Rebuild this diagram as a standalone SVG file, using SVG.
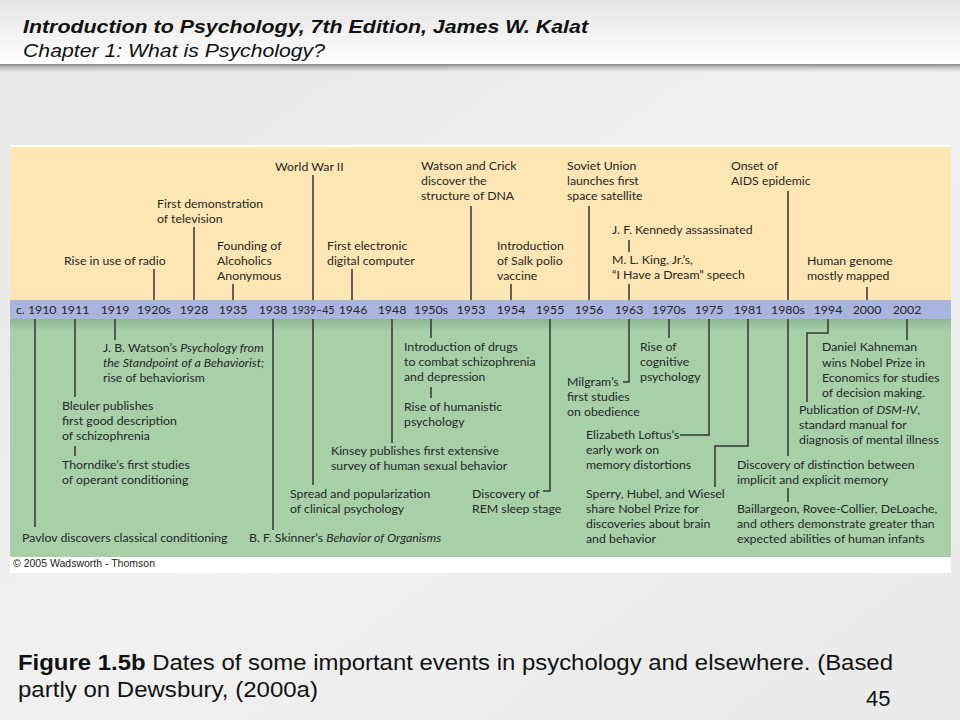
<svg xmlns="http://www.w3.org/2000/svg" width="960" height="720" viewBox="0 0 960 720">
<defs>
<linearGradient id="hdr" x1="0" y1="0" x2="0" y2="1"><stop offset="0" stop-color="#e4e4e4"/><stop offset="1" stop-color="#ffffff"/></linearGradient>
<linearGradient id="shd" x1="0" y1="0" x2="0" y2="1"><stop offset="0" stop-color="#7a7a7a" stop-opacity="0.9"/><stop offset="1" stop-color="#cfcfcf" stop-opacity="0"/></linearGradient>
<linearGradient id="bg" x1="0" y1="0" x2="1" y2="1"><stop offset="0" stop-color="#e6e6e6"/><stop offset="0.5" stop-color="#f1f1f1"/><stop offset="1" stop-color="#e9e9e9"/></linearGradient>
<linearGradient id="gsh" x1="0" y1="0" x2="0" y2="1"><stop offset="0" stop-color="#000" stop-opacity="0.14"/><stop offset="1" stop-color="#000" stop-opacity="0"/></linearGradient>
<style>
.t{font-family:Lato,"Gill Sans","Liberation Sans",sans-serif;font-size:12.3px;fill:#262626}
.y{font-family:Lato,"Gill Sans","Liberation Sans",sans-serif;font-size:12.3px;fill:#262626;text-anchor:middle}
.i{font-style:italic}
.c{fill:none;stroke:#333;stroke-width:1.5}
.hd{font-family:"Liberation Sans",Arial,sans-serif;font-size:18px;font-style:italic;fill:#111}
.cap{font-family:"Liberation Sans",Arial,sans-serif;font-size:22px;fill:#111}
</style>
</defs>
<rect x="0" y="0" width="960" height="720" fill="url(#bg)"/>
<rect x="0" y="0" width="960" height="64" fill="url(#hdr)"/>
<rect x="0" y="64" width="960" height="9" fill="url(#shd)"/>
<g id="header">
<text class="hd" x="23" y="33" font-weight="bold" textLength="565" lengthAdjust="spacingAndGlyphs">Introduction to Psychology, 7th Edition, James W. Kalat</text>
<text class="hd" x="23" y="57" textLength="302" lengthAdjust="spacingAndGlyphs">Chapter 1: What is Psychology?</text>
</g>
<g id="figure-bg">
<rect x="10" y="145" width="941" height="428" fill="#ffffff"/>
<rect x="10" y="147" width="941" height="153" fill="#fde6b3"/>
<rect x="10" y="319" width="941" height="238" fill="#a7d0a9"/>
<rect x="10" y="319" width="941" height="12" fill="url(#gsh)"/>
<rect x="10" y="300" width="941" height="19" fill="#a9b4df"/>
<text x="13" y="567" font-family="'Liberation Sans',Arial,sans-serif" font-size="10.5" fill="#222">© 2005 Wadsworth - Thomson</text>
</g>
<g id="years">
<text class="t" x="16" y="314">c. 1910</text>
<text class="y" x="75" y="314">1911</text>
<text class="y" x="115" y="314">1919</text>
<text class="y" x="154" y="314">1920s</text>
<text class="y" x="194" y="314">1928</text>
<text class="y" x="233" y="314">1935</text>
<text class="y" x="273" y="314">1938</text>
<text class="y" x="313" y="314" textLength="43" lengthAdjust="spacingAndGlyphs">1939–45</text>
<text class="y" x="353" y="314">1946</text>
<text class="y" x="392" y="314">1948</text>
<text class="y" x="431" y="314">1950s</text>
<text class="y" x="471" y="314">1953</text>
<text class="y" x="511" y="314">1954</text>
<text class="y" x="550" y="314">1955</text>
<text class="y" x="589" y="314">1956</text>
<text class="y" x="629" y="314">1963</text>
<text class="y" x="669" y="314">1970s</text>
<text class="y" x="709" y="314">1975</text>
<text class="y" x="748" y="314">1981</text>
<text class="y" x="788" y="314">1980s</text>
<text class="y" x="828" y="314">1994</text>
<text class="y" x="867" y="314">2000</text>
<text class="y" x="907" y="314">2002</text>
</g>
<g id="connectors">
<path class="c" d="M154 269V300M194 227V300M233 284V300M313 175V300M352 269V300M471 206V300M511 284V300M589 206V300M629 240V252M629 284V300M788 191V300M867 287V300"/>
<path class="c" d="M35 319V527M75 319V397M75 446V456M115 319V340M273 319V530M313 319V485M392 319V443M431 319V338M431 387V398M550 319V491H543M629 319V382H623M669 319V338M709 319V435H680M748 319V446H715V487M788 319V456M788 488V502M828 319V333H807V402M907 319V340"/>
</g>
<g id="ww2"><text class="t" x="275" y="171">World War II</text></g>
<g id="television"><text class="t" x="157" y="208">First demonstration</text><text class="t" x="157" y="223">of television</text></g>
<g id="radio"><text class="t" x="64" y="265">Rise in use of radio</text></g>
<g id="aa"><text class="t" x="217" y="250">Founding of</text><text class="t" x="217" y="265">Alcoholics</text><text class="t" x="217" y="280">Anonymous</text></g>
<g id="computer"><text class="t" x="327" y="250">First electronic</text><text class="t" x="327" y="265">digital computer</text></g>
<g id="dna"><text class="t" x="421" y="170">Watson and Crick</text><text class="t" x="421" y="185">discover the</text><text class="t" x="421" y="200">structure of DNA</text></g>
<g id="salk"><text class="t" x="497" y="250">Introduction</text><text class="t" x="497" y="265">of Salk polio</text><text class="t" x="497" y="280">vaccine</text></g>
<g id="sputnik"><text class="t" x="567" y="170">Soviet Union</text><text class="t" x="567" y="185">launches first</text><text class="t" x="567" y="200">space satellite</text></g>
<g id="kennedy"><text class="t" x="612" y="234">J. F. Kennedy assassinated</text></g>
<g id="king"><text class="t" x="612" y="264">M. L. King, Jr.’s,</text><text class="t" x="612" y="279">“I Have a Dream” speech</text></g>
<g id="aids"><text class="t" x="731" y="170">Onset of</text><text class="t" x="731" y="185">AIDS epidemic</text></g>
<g id="genome"><text class="t" x="807" y="265">Human genome</text><text class="t" x="807" y="280">mostly mapped</text></g>
<g id="pavlov"><text class="t" x="22" y="542">Pavlov discovers classical conditioning</text></g>
<g id="bleuler"><text class="t" x="62" y="410">Bleuler publishes</text><text class="t" x="62" y="425">first good description</text><text class="t" x="62" y="440">of schizophrenia</text></g>
<g id="thorndike"><text class="t" x="62" y="469">Thorndike’s first studies</text><text class="t" x="62" y="484">of operant conditioning</text></g>
<g id="watson"><text class="t" x="103" y="352">J. B. Watson’s <tspan class="i">Psychology from</tspan></text><text class="t i" x="103" y="367">the Standpoint of a Behaviorist;</text><text class="t" x="103" y="382">rise of behaviorism</text></g>
<g id="skinner"><text class="t" x="249" y="542">B. F. Skinner’s <tspan class="i">Behavior of Organisms</tspan></text></g>
<g id="clinical"><text class="t" x="290" y="498">Spread and popularization</text><text class="t" x="290" y="513">of clinical psychology</text></g>
<g id="kinsey"><text class="t" x="331" y="455">Kinsey publishes first extensive</text><text class="t" x="331" y="470">survey of human sexual behavior</text></g>
<g id="drugs"><text class="t" x="404" y="351">Introduction of drugs</text><text class="t" x="404" y="366">to combat schizophrenia</text><text class="t" x="404" y="381">and depression</text></g>
<g id="humanistic"><text class="t" x="404" y="411">Rise of humanistic</text><text class="t" x="404" y="426">psychology</text></g>
<g id="rem"><text class="t" x="472" y="498">Discovery of</text><text class="t" x="472" y="513">REM sleep stage</text></g>
<g id="milgram"><text class="t" x="567" y="386">Milgram’s</text><text class="t" x="567" y="401">first studies</text><text class="t" x="567" y="416">on obedience</text></g>
<g id="cognitive"><text class="t" x="640" y="351">Rise of</text><text class="t" x="640" y="366">cognitive</text><text class="t" x="640" y="381">psychology</text></g>
<g id="loftus"><text class="t" x="586" y="439">Elizabeth Loftus’s</text><text class="t" x="586" y="454">early work on</text><text class="t" x="586" y="469">memory distortions</text></g>
<g id="sperry"><text class="t" x="586" y="498">Sperry, Hubel, and Wiesel</text><text class="t" x="586" y="513">share Nobel Prize for</text><text class="t" x="586" y="528">discoveries about brain</text><text class="t" x="586" y="543">and behavior</text></g>
<g id="implicit"><text class="t" x="737" y="469">Discovery of distinction between</text><text class="t" x="737" y="484">implicit and explicit memory</text></g>
<g id="infants"><text class="t" x="737" y="513">Baillargeon, Rovee-Collier, DeLoache,</text><text class="t" x="737" y="528">and others demonstrate greater than</text><text class="t" x="737" y="543">expected abilities of human infants</text></g>
<g id="dsm"><text class="t" x="799" y="414">Publication of <tspan class="i">DSM-IV</tspan>,</text><text class="t" x="799" y="429">standard manual for</text><text class="t" x="799" y="444">diagnosis of mental illness</text></g>
<g id="kahneman"><text class="t" x="822" y="351">Daniel Kahneman</text><text class="t" x="822" y="367">wins Nobel Prize in</text><text class="t" x="822" y="382">Economics for studies</text><text class="t" x="822" y="397">of decision making.</text></g>
<g id="caption">
<text class="cap" x="18" y="670" textLength="875" lengthAdjust="spacingAndGlyphs"><tspan font-weight="bold">Figure 1.5b</tspan> Dates of some important events in psychology and elsewhere. (Based</text>
<text class="cap" x="18" y="697" textLength="300" lengthAdjust="spacingAndGlyphs">partly on Dewsbury, (2000a)</text>
<text class="cap" x="866" y="706">45</text>
</g>
</svg>
